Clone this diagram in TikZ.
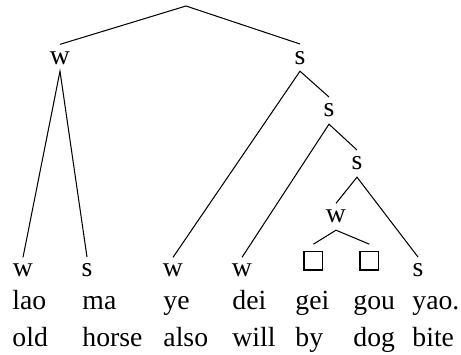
\documentclass[tikz,border=0pt]{standalone}
\usepackage{fontspec}
\setmainfont{Liberation Serif}
\usepackage{tikz}

\begin{document}
\begin{tikzpicture}[
    x=0.433pt, y=-0.433pt,
    font=\fontsize{12}{14}\selectfont,
    tag/.style={inner sep=2.8pt, anchor=base},
    slot/.style={draw, line width=0.5pt, inner sep=0pt, minimum size=8.2pt,
        outer sep=3pt, anchor=south west},
    word/.style={inner sep=0pt, anchor=base west},
    branch/.style={line width=0.45pt}
]
\useasboundingbox (0,0) rectangle (461,355);

% metrical tree
\coordinate (top) at (186,6);
\node[tag] (w1) at (60,64) {w};
\node[tag] (s1) at (300,64) {s};
\node[tag] (s2) at (329,117) {s};
\node[tag] (s3) at (357,170) {s};
\node[tag] (w4) at (336,223) {w};

% terminal labels
\node[tag] (l1) at (23,277) {w};
\node[tag] (l2) at (87,277) {s};
\node[tag] (l3) at (173,277) {w};
\node[tag] (l4) at (242,277) {w};
\node[slot] (l5) at (297,277) {};
\node[slot] (l6) at (353,277) {};
\node[tag] (l7) at (418,277) {s};

% syllables
\node[word] (wd1) at (12,310) {lao};
\node[word] (wd2) at (82,310) {ma};
\node[word] (wd3) at (163,310) {ye};
\node[word] (wd4) at (232,310) {dei};
\node[word] (wd5) at (295,310) {gei};
\node[word] (wd6) at (353,310) {gou};
\node[word] (wd7) at (412,310) {yao.};

% glosses
\node[word] (gl1) at (12,347) {old};
\node[word] (gl2) at (82,347) {horse};
\node[word] (gl3) at (163,347) {also};
\node[word] (gl4) at (232,347) {will};
\node[word] (gl5) at (295,347) {by};
\node[word] (gl6) at (353,347) {dog};
\node[word] (gl7) at (412,347) {bite};

\draw[branch] (w1.north) -- (top) -- (s1.north);
\draw[branch] (l1.north) -- (w1.south) -- (l2.north);
\draw[branch] (l3.north) -- (s1.south) -- (s2.north);
\draw[branch] (l4.north) -- (s2.south) -- (s3.north);
\draw[branch] (w4.north) -- (s3.south) -- (l7.north);
\draw[branch] (l5.north) -- (w4.south) -- (l6.north);
\end{tikzpicture}
\end{document}
